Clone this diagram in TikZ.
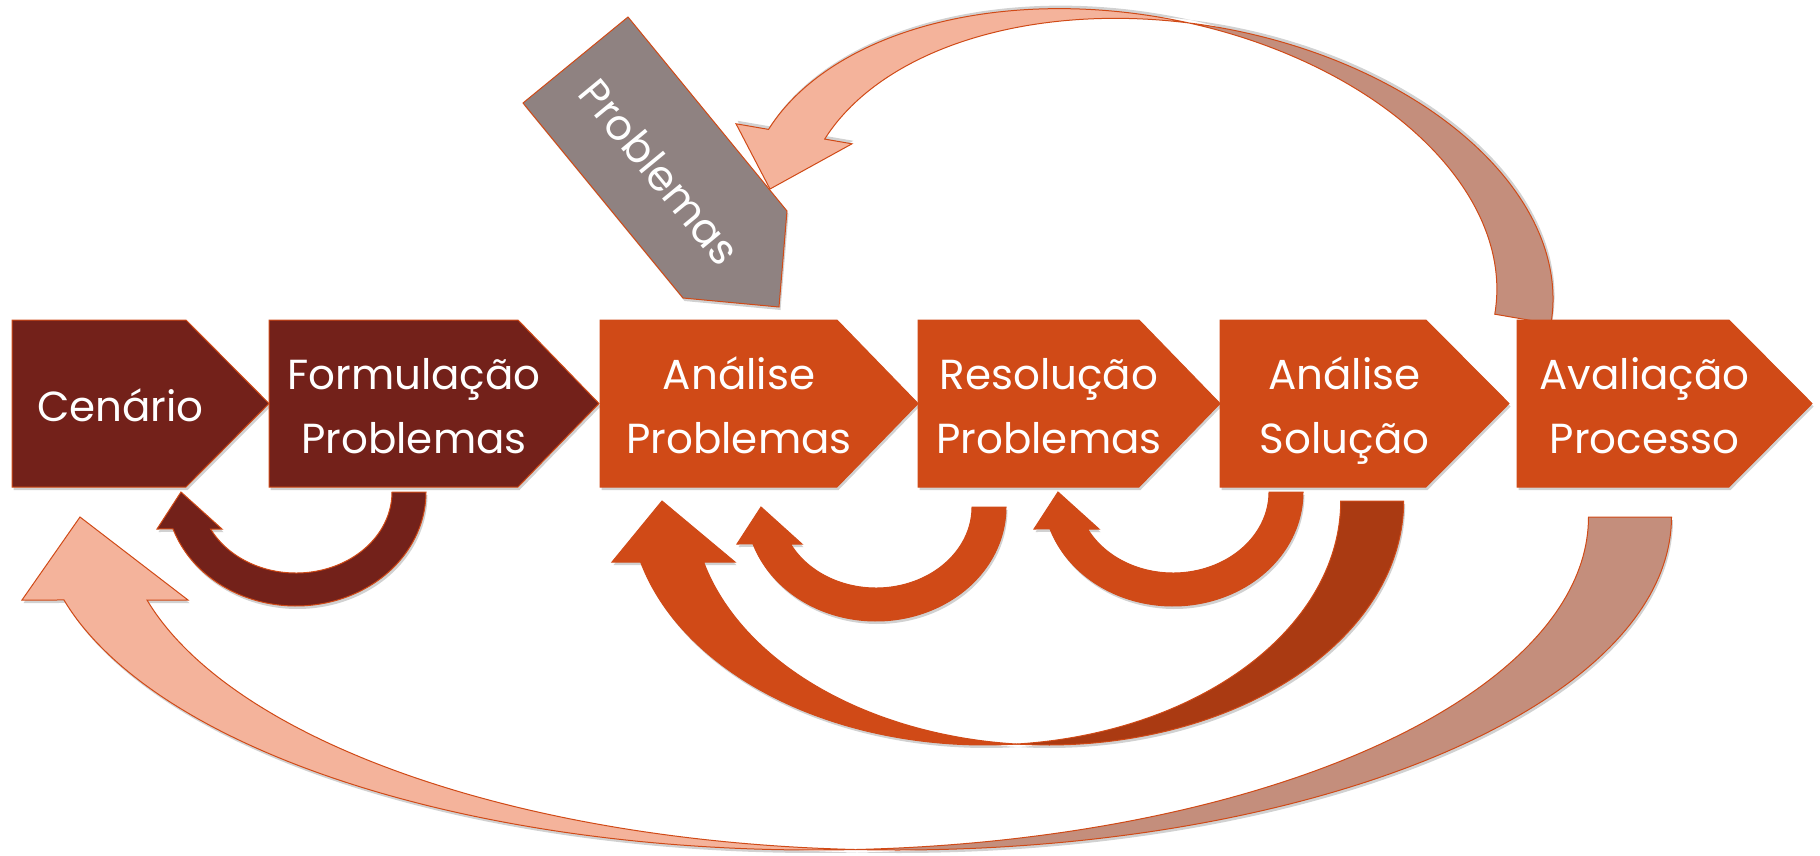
\documentclass[tikz,border=0pt]{standalone}
\usepackage{fontspec}
\setmainfont{Poppins}
\usetikzlibrary{calc}
\usetikzlibrary{shadows}

\definecolor{vinho}{HTML}{73211A}
\definecolor{laranja}{HTML}{D04A17}
\definecolor{laranjaescuro}{HTML}{AA3A12}
\definecolor{salmao}{HTML}{F4B39B}
\definecolor{salmaoescuro}{HTML}{C48E7C}
\definecolor{cinza}{HTML}{8F8281}

% etapa: nome, x esquerdo, x fim do retangulo, x da ponta, cor, texto
\newcommand{\etapa}[6]{%
  \filldraw[caixa, fill=#5] (#2,320) -- (#3,320) -- (#4,403.5) -- (#3,487) -- (#2,487) -- cycle;
  \node[rotulo] (#1) at ({(#2+#4)/2-20},409) {#6};
}

% seta curva pequena: centro x, centro y, cor
\newcommand{\setacurva}[3]{%
  \filldraw[seta, fill=#3]
    plot[domain=0:161.1] ({#1+130*cos(\x)},{#2+114*sin(\x)})
    -- ({#1-139},{#2+37}) -- ({#1-115},#2) -- ({#1-74},{#2+37})
    -- plot[domain=152.8:0] ({#1+96*cos(\x)},{#2+81*sin(\x)}) -- cycle;
}

% seta curva grande (duas elipses): centro x, centro y, largura, raio x, raio y,
% altura da base da ponta, base esquerda, ponta, base direita
\newcommand{\setadupla}[9]{%
  \pgfmathsetmacro{\angcruz}{acos(#3/(2*#4))}
  \pgfmathsetmacro{\angcruzb}{180-\angcruz}
  \pgfmathsetmacro{\angponta}{180-asin(#6/#5)}
  \filldraw[seta, fundo]
    plot[domain=0:\angcruzb] ({#1+#3+#4*cos(\x)},{#2+#5*sin(\x)})
    -- plot[domain=\angcruz:0] ({#1+#4*cos(\x)},{#2+#5*sin(\x)}) -- cycle;
  \filldraw[seta, frente]
    plot[domain=\angponta:\angcruz] ({#1+#4*cos(\x)},{#2+#5*sin(\x)})
    -- plot[domain=\angcruzb:\angponta] ({#1+#3+#4*cos(\x)},{#2+#5*sin(\x)})
    -- (#9,{#2+#6}) -- (#8,#2) -- (#7,{#2+#6}) -- cycle;
}

\begin{document}
\begin{tikzpicture}[
  x=1pt, y=-1pt,
  sombra/.style = {drop shadow={shadow xshift=1.5pt, shadow yshift=-3pt, opacity=.18, fill=black}},
  caixa/.style = {draw=laranja, line width=1pt, sombra},
  seta/.style = {draw=laranja, line width=1pt, samples=90, sombra},
  rotulo/.style = {text=white, align=center, inner sep=0pt, font=\fontsize{42}{64}\selectfont}
  ]
  \useasboundingbox (0,0) rectangle (1820,855);

  % voltas grandes
  \begin{scope}[frente/.style={fill=salmao}, fundo/.style={fill=salmaoescuro}]
    \setadupla{814}{517}{83}{774.5}{333}{83}{22}{80}{188}
  \end{scope}
  \begin{scope}[frente/.style={fill=laranja}, fundo/.style={fill=laranjaescuro}]
    \setadupla{985}{501}{63}{355.7}{244}{61}{612}{662}{735}
  \end{scope}

  % entrada de problemas
  \filldraw[seta, fill=cinza] (628,17) -- (523,103) -- (683,298) -- (779,307) -- (787,211) -- cycle;
  \node[rotulo, rotate=-50.5] (problemas) at (660,172) {Problemas};

  \begin{scope}[frente/.style={fill=salmao}, fundo/.style={fill=salmaoescuro},
      sombra/.style={drop shadow={shadow xshift=1.5pt, shadow yshift=3pt, opacity=.18, fill=black}},
      shift={(770,189)}, rotate=-9.8, yscale=-1]
    \setadupla{356}{0}{57}{379.5}{235.6}{58.5}{-44.6}{0}{73.1}
  \end{scope}

  % etapas
  \etapa{cenario}{12}{186}{269}{vinho}{\strut Cenário}
  \etapa{formulacao}{269}{518}{599}{vinho}{\strut Formulação\\\strut Problemas}
  \etapa{analiseproblemas}{600}{837}{918}{laranja}{\strut Análise\\\strut Problemas}
  \etapa{resolucao}{918}{1139}{1220}{laranja}{\strut Resolução\\\strut Problemas}
  \etapa{analisesolucao}{1220}{1426}{1509}{laranja}{\strut Análise\\\strut Solução}
  \etapa{avaliacao}{1517}{1729}{1812}{laranja}{\strut Avaliação\\\strut Processo}

  % voltas pequenas
  \setacurva{296}{492}{vinho}
  \setacurva{876}{507}{laranja}
  \setacurva{1173}{492}{laranja}
\end{tikzpicture}
\end{document}
